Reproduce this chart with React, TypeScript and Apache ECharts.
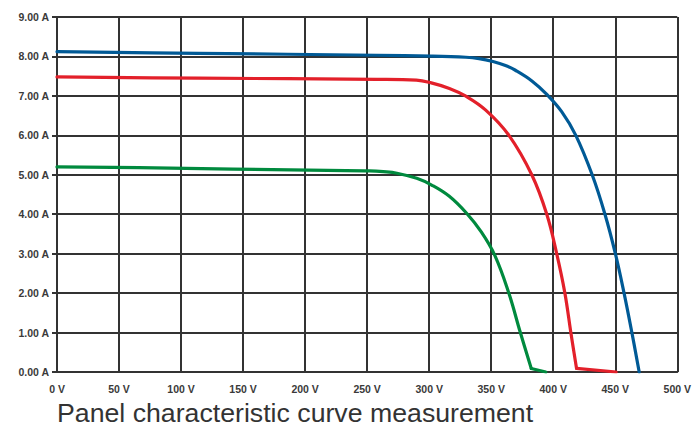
import React, { useEffect, useRef } from "react";
import * as echarts from "echarts";

const titleText = "Panel characteristic curve measurement";

const blueV = [0, 114, 258, 302, 329.6, 340.2, 351.4, 361.5, 369.5, 382.8, 394.8, 406.8, 418.2, 431.4, 441.7, 450.1, 457.1, 463.4, 469.3];
const blueA = [8.12, 8.08, 8.03, 8.01, 7.98, 7.945, 7.87, 7.77, 7.65, 7.38, 7.04, 6.6, 6.0, 5.0, 4.0, 3.0, 2.0, 1.0, 0];

const redV = [0, 114, 258, 289.7, 301.7, 316.3, 329.2, 345.6, 364.3, 382.7, 394.8, 402.8, 409.4, 414.2, 418.8, 450.7];
const redA = [7.48, 7.45, 7.42, 7.4, 7.33, 7.19, 7.0, 6.64, 6.0, 5.0, 4.0, 3.0, 2.0, 1.0, 0.09, 0];

const greenV = [0, 66, 218, 252, 263, 274, 290, 302, 316, 330, 342, 353, 364.2, 373.5, 382.3, 394];
const greenA = [5.2, 5.18, 5.11, 5.1, 5.08, 5.04, 4.91, 4.74, 4.46, 4.03, 3.55, 2.95, 2.0, 1.0, 0.09, 0];

const seriesColors = ["#005a96", "#e3202a", "#008a3e"];

const zip = (xs: number[], ys: number[]) => xs.map((x, i) => [x, ys[i]]);

export default function App() {
  const ref = useRef<HTMLDivElement>(null);
  useEffect(() => {
    if (!ref.current) return;
    const chart = echarts.init(ref.current, undefined, { renderer: "svg" });
    const gridColor = "#333333";
    const labelFont = {
      fontFamily: "'Liberation Sans', Arial, sans-serif",
      fontWeight: "bold" as const,
      fontSize: 10.5,
      color: "#3a3a3a",
    };
    const lineSeries = (name: string, data: number[][], color: string, smooth: number | boolean) => ({
      name,
      type: "line" as const,
      data,
      showSymbol: false,
      smooth,
      lineStyle: { color, width: 3.2, cap: "round" as const, join: "round" as const },
      itemStyle: { color },
      z: 5,
    });
    // curve part is smoothed; a flat tail (last segment to 0 A) stays straight
    const curveWithTail = (name: string, v: number[], a: number[], color: string, hasTail: boolean) => {
      const pts = zip(v, a);
      if (!hasTail) return [lineSeries(name, pts, color, 0.4)];
      return [
        lineSeries(name, pts.slice(0, -1), color, 0.4),
        lineSeries(name + " tail", pts.slice(-2), color, false),
      ];
    };
    chart.setOption({
      animation: false,
      backgroundColor: "#ffffff",
      grid: { left: 57, right: 10.5, top: 17, bottom: 55, containLabel: false },
      xAxis: {
        type: "value",
        min: 0,
        max: 500,
        interval: 50,
        axisLine: { show: true, lineStyle: { color: gridColor, width: 2 } },
        axisTick: { show: false },
        axisLabel: { ...labelFont, margin: 11, formatter: (v: number) => `${v} V` },
        splitLine: { show: true, lineStyle: { color: gridColor, width: 2 } },
      },
      yAxis: {
        type: "value",
        min: 0,
        max: 9,
        interval: 1,
        axisLine: { show: true, lineStyle: { color: gridColor, width: 2 } },
        axisTick: { show: true, length: 5, lineStyle: { color: gridColor, width: 2 } },
        axisLabel: { ...labelFont, margin: 8, formatter: (v: number) => `${v.toFixed(2)} A` },
        splitLine: { show: true, lineStyle: { color: gridColor, width: 2 } },
      },
      graphic: [
        {
          type: "text",
          left: 57,
          top: 399,
          style: {
            text: titleText,
            fontFamily: "'Liberation Sans', Arial, sans-serif",
            fontSize: 26.7,
            fill: "#333333",
          },
        },
      ],
      series: [
        ...curveWithTail("Curve 1", blueV, blueA, seriesColors[0], false),
        ...curveWithTail("Curve 2", redV, redA, seriesColors[1], true),
        ...curveWithTail("Curve 3", greenV, greenA, seriesColors[2], true),
      ],
    });
    return () => chart.dispose();
  }, []);
  return (
    <div
      ref={ref}
      style={{ position: "absolute", left: 0, top: 0, width: 694, height: 427 }}
    />
  );
}
